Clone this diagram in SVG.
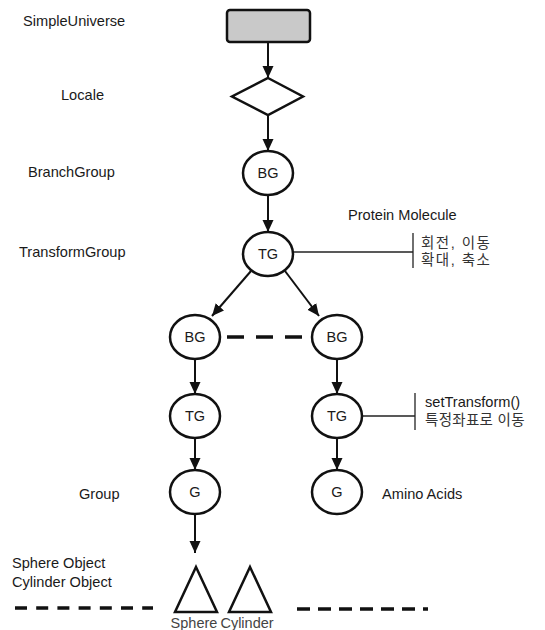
<svg xmlns="http://www.w3.org/2000/svg" width="545" height="630" viewBox="0 0 545 630">
<defs>
<marker id="arr" markerUnits="userSpaceOnUse" markerWidth="13" markerHeight="13" viewBox="0 0 13 13" refX="12" refY="6.5" orient="auto">
<path d="M0,1 L12,6.5 L0,12 Z" fill="#111"/>
</marker>
</defs>
<style>
.lbl{font-family:"Liberation Sans",Arial,sans-serif;font-size:14.6px;fill:#1a1a1a}
.nd{font-family:"Liberation Sans",Arial,sans-serif;font-size:14.5px;fill:#1a1a1a;text-anchor:middle}
.kr{font-family:"Liberation Sans","Noto Sans CJK KR",sans-serif;font-size:14.5px;fill:#333}
.node{fill:#fff;stroke:#111;stroke-width:2.5}
.edge{stroke:#111;stroke-width:2;fill:none}
.thin{stroke:#222;stroke-width:1.3;fill:none}
.dash{stroke:#111;stroke-width:3.5;fill:none}
.sub{font-family:"Liberation Sans",Arial,sans-serif;font-size:14.5px;fill:#444;text-anchor:middle}
</style>
<rect width="545" height="630" fill="#fff"/>

<g id="labels">
<text class="lbl" x="23" y="26">SimpleUniverse</text>
<text class="lbl" x="61" y="100">Locale</text>
<text class="lbl" x="28" y="177">BranchGroup</text>
<text class="lbl" x="19" y="257">TransformGroup</text>
<text class="lbl" x="348" y="220">Protein Molecule</text>
<text class="kr" x="421" y="248" letter-spacing="1.5">회전, 이동</text>
<text class="kr" x="421" y="265" letter-spacing="1.5">확대, 축소</text>
<text class="lbl" x="425" y="407">setTransform()</text>
<text class="kr" x="425" y="425" letter-spacing="0.3">특정좌표로 이동</text>
<text class="lbl" x="79" y="499">Group</text>
<text class="lbl" x="382" y="499">Amino Acids</text>
<text class="lbl" x="12" y="568">Sphere Object</text>
<text class="lbl" x="12" y="587">Cylinder Object</text>
</g>

<g id="connectors">
<line class="edge" x1="268" y1="42" x2="268" y2="78" marker-end="url(#arr)"/>
<line class="edge" x1="268" y1="115" x2="268" y2="151" marker-end="url(#arr)"/>
<line class="edge" x1="268" y1="195" x2="268" y2="232" marker-end="url(#arr)"/>
<line class="edge" x1="251" y1="271" x2="212" y2="316" marker-end="url(#arr)"/>
<line class="edge" x1="285" y1="271" x2="319" y2="316" marker-end="url(#arr)"/>
<line class="edge" x1="195" y1="359" x2="195" y2="394" marker-end="url(#arr)"/>
<line class="edge" x1="337" y1="359" x2="337" y2="394" marker-end="url(#arr)"/>
<line class="edge" x1="195" y1="438" x2="195" y2="470" marker-end="url(#arr)"/>
<line class="edge" x1="337" y1="438" x2="337" y2="470" marker-end="url(#arr)"/>
<line class="edge" x1="195" y1="514" x2="195" y2="553" marker-end="url(#arr)"/>
<line class="dash" x1="227" y1="337" x2="302" y2="337" stroke-dasharray="17 12"/>
<line class="thin" x1="293" y1="252" x2="413" y2="252"/>
<line class="thin" x1="413" y1="233" x2="413" y2="268"/>
<line class="thin" x1="362" y1="416" x2="415" y2="416"/>
<line class="thin" x1="415" y1="393" x2="415" y2="430"/>
<line class="dash" x1="15" y1="608" x2="153" y2="608" stroke-dasharray="12 9.2"/>
<line class="dash" x1="297" y1="609" x2="428" y2="609" stroke-dasharray="13 8"/>
</g>

<g id="universe"><rect x="227" y="10" width="83" height="32" rx="3" fill="#c9c9c9" stroke="#111" stroke-width="2.5"/></g>
<g id="locale"><polygon class="node" points="268,78 303,96.5 268,115 232,96.5"/></g>
<g id="bg1"><ellipse class="node" cx="268" cy="173" rx="25" ry="22"/><text class="nd" x="268" y="178">BG</text></g>
<g id="tg1"><ellipse class="node" cx="268" cy="254" rx="25" ry="22"/><text class="nd" x="268" y="259">TG</text></g>
<g id="bg2"><ellipse class="node" cx="195" cy="337" rx="25" ry="22"/><text class="nd" x="195" y="342">BG</text></g>
<g id="bg3"><ellipse class="node" cx="337" cy="337" rx="25" ry="22"/><text class="nd" x="337" y="342">BG</text></g>
<g id="tg2"><ellipse class="node" cx="195" cy="416" rx="25" ry="22"/><text class="nd" x="195" y="421">TG</text></g>
<g id="tg3"><ellipse class="node" cx="337" cy="416" rx="25" ry="22"/><text class="nd" x="337" y="421">TG</text></g>
<g id="g1"><ellipse class="node" cx="195" cy="492" rx="25" ry="22"/><text class="nd" x="195" y="497">G</text></g>
<g id="g2"><ellipse class="node" cx="337" cy="492" rx="25" ry="22"/><text class="nd" x="337" y="497">G</text></g>
<g id="sphere"><polygon class="node" stroke-width="2.8" points="196,567 217,612 175,612"/><text class="sub" x="194" y="628">Sphere</text></g>
<g id="cylinder"><polygon class="node" stroke-width="2.8" points="250,567 271,612 229,612"/><text class="sub" x="247" y="628">Cylinder</text></g>
</svg>
